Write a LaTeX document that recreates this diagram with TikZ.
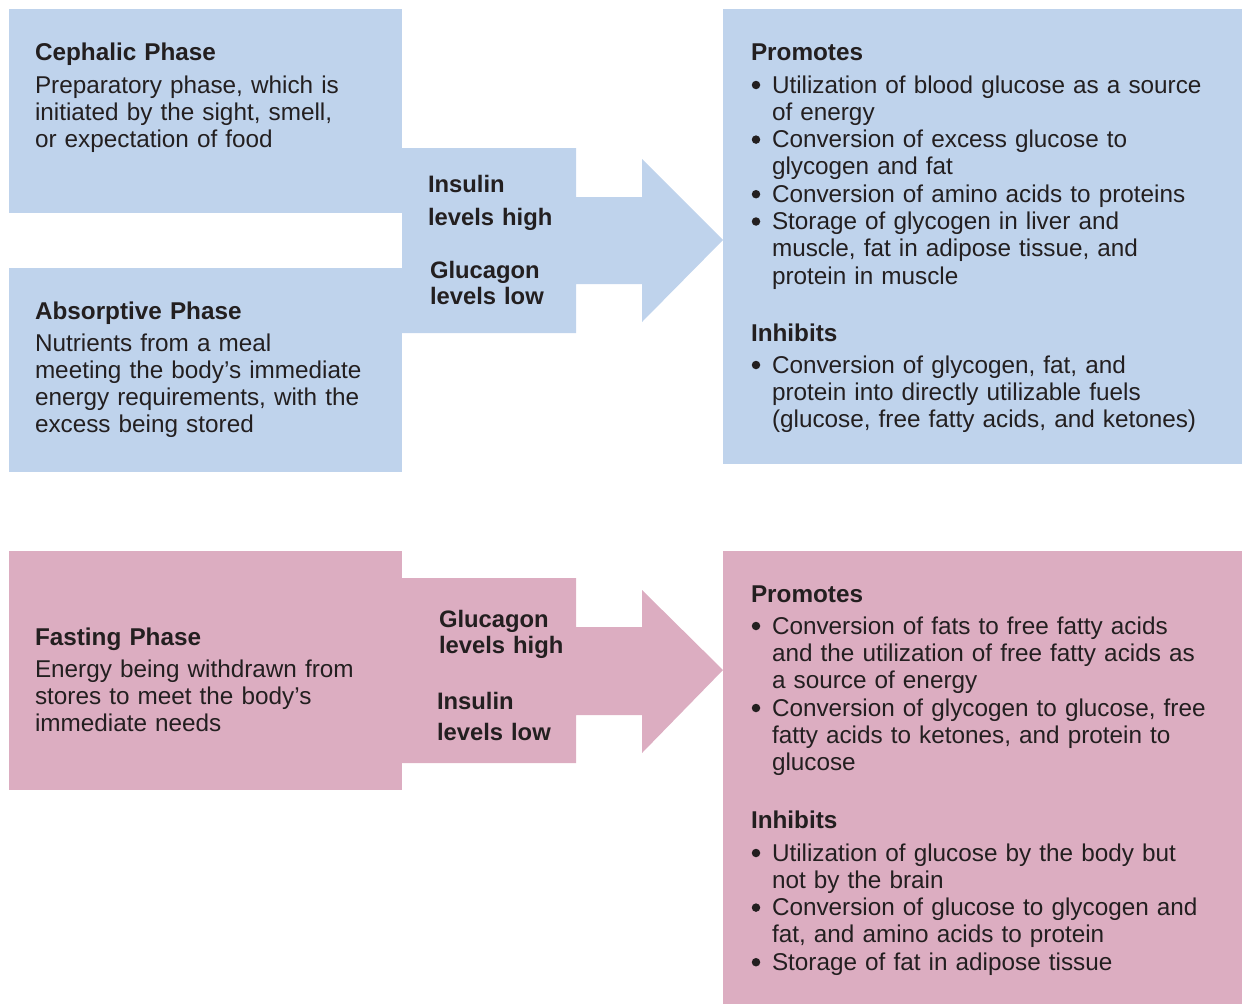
\documentclass[tikz,border=0pt]{standalone}
\usepackage{fontspec}
\setmainfont{Liberation Sans}
\definecolor{bluebg}{HTML}{BFD3EC}
\definecolor{pinkbg}{HTML}{DCADC1}
\definecolor{ink}{HTML}{231F20}
\tikzset{
  txt/.style={anchor=base west, inner sep=0pt, outer sep=0pt, align=left, text width=480pt, text=ink,
    font=\fontsize{24.3}{27.3}\selectfont},
  hd/.style={txt, font=\fontsize{24.3}{27.3}\selectfont\bfseries},
  lbl/.style={txt, text width=150pt, font=\fontsize{23.8}{27}\selectfont\bfseries},
  bul/.style={circle, fill=ink, inner sep=0pt, minimum size=8.5pt, yshift=8pt},
}
\begin{document}
\begin{tikzpicture}[x=1pt,y=-1pt]
\useasboundingbox (0,0) rectangle (1242,1004);
% ---------- blue (fed) part ----------
\fill[bluebg] (9,9) rectangle (402,213);
\fill[bluebg] (9,268) rectangle (402,472);
\fill[bluebg] (402,148) -- (576,148) -- (576,197) -- (642,197) -- (642,159) -- (723,240)
  -- (642,322) -- (642,284) -- (576,284) -- (576,333) -- (402,333) -- cycle;
\fill[bluebg] (723,9) rectangle (1242,464);
% ---------- pink (fasting) part ----------
\fill[pinkbg] (9,551) rectangle (402,790);
\fill[pinkbg] (402,578) -- (576,578) -- (576,627) -- (642,627) -- (642,590) -- (723,670)
  -- (642,753) -- (642,715) -- (576,715) -- (576,763) -- (402,763) -- cycle;
\fill[pinkbg] (723,551) rectangle (1242,1004);

% ---------- left texts ----------
\node[hd] (cephT) at (35,60) {Cephalic Phase};
\node[txt] (cephB) at (35,93) {Preparatory phase, which is\\initiated by the sight, smell,\\or expectation of food};
\node[hd] (absT) at (35,319) {Absorptive Phase};
\node[txt] (absB) at (35,351) {Nutrients from a meal\\meeting the body’s immediate\\energy requirements, with the\\excess being stored};
\node[hd] (fastT) at (35,645) {Fasting Phase};
\node[txt] (fastB) at (35,677) {Energy being withdrawn from\\stores to meet the body’s\\immediate needs};

% ---------- arrow labels ----------
\node[lbl] (insA) at (428,192) {Insulin};
\node[lbl] (insB) at (428,225) {levels high};
\node[lbl] (glcA) at (430,278) {Glucagon};
\node[lbl] (glcB) at (430,304) {levels low};
\node[lbl] (glcC) at (439,627) {Glucagon};
\node[lbl] (glcD) at (439,653) {levels high};
\node[lbl] (insC) at (437,709) {Insulin};
\node[lbl] (insD) at (437,740) {levels low};

% ---------- right blue texts ----------
\node[hd] (promA) at (751,60) {Promotes};
\node[bul] (b1) at (756,93) {};
\node[txt] (t1) at (772,93) {Utilization of blood glucose as a source\\of energy};
\node[bul] (b2) at (756,147.6) {};
\node[txt] (t2) at (772,147.6) {Conversion of excess glucose to\\glycogen and fat};
\node[bul] (b3) at (756,202.2) {};
\node[txt] (t3) at (772,202.2) {Conversion of amino acids to proteins};
\node[bul] (b4) at (756,229.5) {};
\node[txt] (t4) at (772,229.5) {Storage of glycogen in liver and\\muscle, fat in adipose tissue, and\\protein in muscle};
\node[hd] (inhA) at (751,341) {Inhibits};
\node[bul] (b5) at (756,373) {};
\node[txt] (t5) at (772,373) {Conversion of glycogen, fat, and\\protein into directly utilizable fuels\\(glucose, free fatty acids, and ketones)};

% ---------- right pink texts ----------
\node[hd] (promB) at (751,602) {Promotes};
\node[bul] (b6) at (756,634) {};
\node[txt] (t6) at (772,634) {Conversion of fats to free fatty acids\\and the utilization of free fatty acids as\\a source of energy};
\node[bul] (b7) at (756,716) {};
\node[txt] (t7) at (772,716) {Conversion of glycogen to glucose, free\\fatty acids to ketones, and protein to\\glucose};
\node[hd] (inhB) at (751,828) {Inhibits};
\node[bul] (b8) at (756,861) {};
\node[txt] (t8) at (772,861) {Utilization of glucose by the body but\\not by the brain};
\node[bul] (b9) at (756,915.6) {};
\node[txt] (t9) at (772,915.6) {Conversion of glucose to glycogen and\\fat, and amino acids to protein};
\node[bul] (b10) at (756,970.2) {};
\node[txt] (t10) at (772,970.2) {Storage of fat in adipose tissue};
\end{tikzpicture}
\end{document}
